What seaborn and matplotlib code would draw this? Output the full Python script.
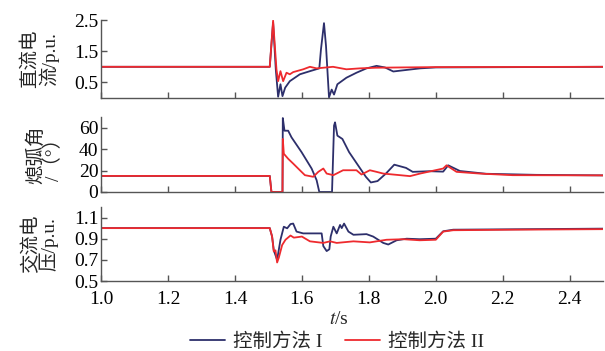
import numpy as np
import pandas as pd
import matplotlib
matplotlib.use("Agg")
import matplotlib.pyplot as plt
import seaborn as sns

# ---- data ----
# DC current (p.u.)
t_dc_1 = [1.0, 1.504, 1.514, 1.522, 1.529, 1.536, 1.542, 1.550, 1.564, 1.594, 1.624, 1.652, 1.657,
          1.666, 1.672, 1.679, 1.681, 1.689, 1.696, 1.706, 1.733, 1.763, 1.793, 1.823, 1.848, 1.873,
          1.913, 1.953, 2.0, 2.5]
v_dc_1 = [1.0, 1.0, 2.42, 0.92, 0.04, 0.44, 0.06, 0.33, 0.54, 0.76, 0.86, 0.95, 1.56,
          2.40, 1.67, 0.38, 0.02, 0.27, 0.11, 0.44, 0.65, 0.81, 0.95, 1.03, 0.98, 0.85,
          0.90, 0.95, 0.98, 1.0]
t_dc_2 = [1.0, 1.504, 1.514, 1.524, 1.529, 1.536, 1.544, 1.554, 1.564, 1.574, 1.604, 1.624, 1.644,
          1.693, 1.733, 1.773, 1.82, 1.9, 2.0, 2.5]
v_dc_2 = [1.0, 1.0, 2.48, 0.92, 0.54, 0.86, 0.54, 0.81, 0.76, 0.83, 0.92, 1.0, 0.95,
          1.0, 0.92, 0.95, 0.97, 0.98, 0.99, 1.0]

# extinction angle (deg)
t_ga_1 = [1.0, 1.504, 1.509, 1.542, 1.543, 1.548, 1.559, 1.569, 1.599, 1.629, 1.644, 1.652, 1.690,
          1.696, 1.699, 1.706, 1.721, 1.741, 1.771, 1.791, 1.806, 1.826, 1.851, 1.876, 1.911, 1.931,
          1.981, 2.022, 2.037, 2.072, 2.15, 2.3, 2.5]
v_ga_1 = [15, 15, 0, 0, 69, 57.2, 57.2, 51, 37.2, 21.9, 11, 0, 0,
          61.9, 65, 52.6, 49.5, 37.2, 23.4, 14.2, 8.9, 10.2, 17.2, 25.5, 22.5, 18.8,
          19.4, 19, 24.9, 19.6, 17, 16, 15.5]
t_ga_2 = [1.0, 1.504, 1.509, 1.542, 1.543, 1.546, 1.559, 1.574, 1.594, 1.609, 1.634, 1.649, 1.664,
          1.674, 1.694, 1.723, 1.763, 1.778, 1.803, 1.823, 1.843, 1.893, 1.923, 1.953, 2.022, 2.032,
          2.062, 2.131, 2.23, 2.5]
v_ga_2 = [15, 15, 0, 0, 49.5, 35.7, 31, 26.5, 20.3, 15.7, 14.2, 18.8, 21.9,
          17.2, 15.7, 20.3, 20.3, 16.3, 20.3, 18.8, 17.2, 15.7, 14.8, 17.2, 21.9, 24.9,
          18.8, 17.2, 15.7, 15.5]

# AC voltage (p.u.)
t_ac_1 = [1.0, 1.504, 1.511, 1.516, 1.526, 1.536, 1.546, 1.556, 1.566, 1.574, 1.584, 1.604, 1.654,
          1.659, 1.664, 1.674, 1.682, 1.686, 1.694, 1.704, 1.714, 1.719, 1.726, 1.739, 1.754, 1.793,
          1.813, 1.843, 1.858, 1.883, 1.913, 1.952, 2.0, 2.022, 2.052, 2.5]
v_ac_1 = [1.0, 1.0, 0.92, 0.79, 0.70, 0.89, 1.013, 0.998, 1.038, 1.043, 0.967, 0.95, 0.95,
          0.95, 0.83, 0.783, 0.80, 0.92, 1.013, 0.95, 1.03, 1.0, 1.043, 0.967, 0.937, 0.943,
          0.92, 0.86, 0.845, 0.885, 0.90, 0.895, 0.90, 0.97, 0.985, 0.995]
t_ac_2 = [1.0, 1.504, 1.511, 1.516, 1.521, 1.526, 1.531, 1.536, 1.541, 1.551, 1.566, 1.576, 1.6,
          1.624, 1.664, 1.684, 1.704, 1.754, 1.803, 1.853, 1.903, 1.952, 2.0, 2.022, 2.052, 2.231, 2.5]
v_ac_2 = [1.0, 1.0, 0.92, 0.78, 0.79, 0.675, 0.72, 0.78, 0.84, 0.89, 0.93, 0.91, 0.92,
          0.875, 0.86, 0.875, 0.86, 0.875, 0.865, 0.89, 0.895, 0.885, 0.89, 0.967, 0.98, 0.985, 0.99]

methods = ["控制方法 I", "控制方法 II"]
ylabels = ["直流电\n流/p.u.", "熄弧角\n/（°）", "交流电\n压/p.u."]
xticks = [1.0, 1.2, 1.4, 1.6, 1.8, 2.0, 2.2, 2.4]
yticks = [[0.5, 1.5, 2.5], [0, 20, 40, 60], [0.5, 0.7, 0.9, 1.1]]
ylims = [(0, 2.5), (0, 70), (0.5, 1.2)]

# ---- style ----
sns.set_style("ticks")
plt.rcParams['font.family'] = ['Liberation Serif', 'Noto Sans CJK SC']
plt.rcParams['mathtext.fontset'] = 'stix'
plt.rcParams['axes.unicode_minus'] = False

colors = {methods[0]: "#2d2f6b", methods[1]: "#ee2a2e"}

panels = [
    (t_dc_1, v_dc_1, t_dc_2, v_dc_2),
    (t_ga_1, v_ga_1, t_ga_2, v_ga_2),
    (t_ac_1, v_ac_1, t_ac_2, v_ac_2),
]

fig = plt.figure(figsize=(6.05, 3.51), dpi=100)
boxes = [
    [0.167, 0.7208, 0.830, 0.2222],
    [0.167, 0.453, 0.830, 0.2137],
    [0.167, 0.1994, 0.830, 0.211],
]

axes = []
for i, (t1, v1, t2, v2) in enumerate(panels):
    ax = fig.add_axes(boxes[i])
    df = pd.concat([
        pd.DataFrame({"t": t1, "v": v1, "m": methods[0]}),
        pd.DataFrame({"t": t2, "v": v2, "m": methods[1]}),
    ])
    sns.lineplot(data=df, x="t", y="v", hue="m", palette=colors, ax=ax,
                 linewidth=1.3, legend=(i == 2), estimator=None, sort=False)
    ax.set_xlim(1.0, 2.5)
    ax.set_ylim(*ylims[i])
    ax.set_xticks(xticks)
    ax.set_yticks(yticks[i])
    ax.set_yticklabels([f"{y:g}" if i == 1 else f"{y:.1f}" for y in yticks[i]])
    ax.tick_params(direction="in", length=4, width=1, colors="#555555",
                   labelcolor="black", labelsize=14, pad=2)
    ax.tick_params(axis="x", pad=7)
    for s in ["top", "right"]:
        ax.spines[s].set_visible(False)
    for s in ["left", "bottom"]:
        ax.spines[s].set_color("#555555")
        ax.spines[s].set_linewidth(1)
    ax.set_ylabel(ylabels[i], fontsize=14, linespacing=0.95, labelpad=11)
    if i < 2:
        ax.set_xticklabels([])
        ax.set_xlabel("")
    else:
        ax.set_xticklabels([f"{x:.1f}" for x in xticks])
        ax.set_xlabel("$t$/s", fontsize=14, labelpad=2, x=0.474)
    axes.append(ax)

fig.align_ylabels(axes)

leg = axes[2].get_legend()
handles = leg.legend_handles
leg.remove()
fig.legend(handles, methods, loc="lower center", bbox_to_anchor=(0.557, 0.0),
           ncol=2, frameon=False, fontsize=14, handlelength=1.8, columnspacing=1.2,
           handletextpad=0.4, borderpad=0.0, borderaxespad=0.0)

fig.savefig("out.png", dpi=100)
